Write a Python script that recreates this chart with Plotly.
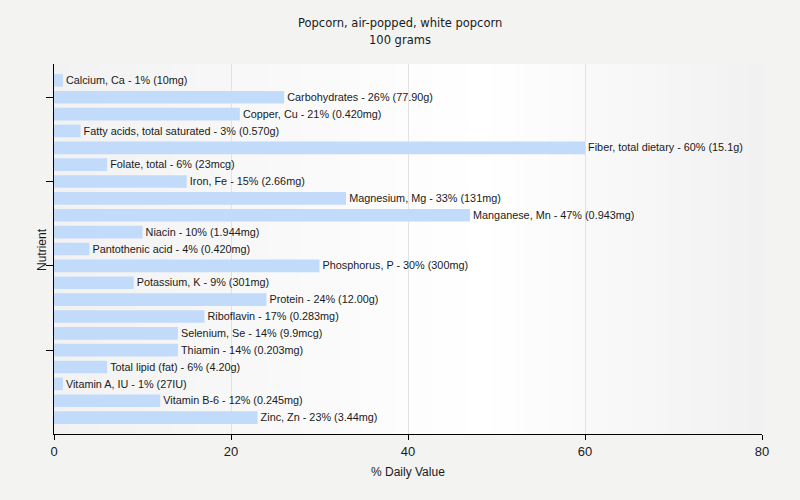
import plotly.graph_objects as go

nutrients = ["Calcium, Ca", "Carbohydrates", "Copper, Cu", "Fatty acids, total saturated",
             "Fiber, total dietary", "Folate, total", "Iron, Fe", "Magnesium, Mg",
             "Manganese, Mn", "Niacin", "Pantothenic acid", "Phosphorus, P",
             "Potassium, K", "Protein", "Riboflavin", "Selenium, Se", "Thiamin",
             "Total lipid (fat)", "Vitamin A, IU", "Vitamin B-6", "Zinc, Zn"]
percent_dv = [1, 26, 21, 3, 60, 6, 15, 33, 47, 10, 4, 30, 9, 24, 17, 14, 14, 6, 1, 12, 23]
amounts = ["10mg", "77.90g", "0.420mg", "0.570g", "15.1g", "23mcg", "2.66mg", "131mg",
           "0.943mg", "1.944mg", "0.420mg", "300mg", "301mg", "12.00g", "0.283mg",
           "9.9mcg", "0.203mg", "4.20g", "27IU", "0.245mg", "3.44mg"]
y_tickvals = [1, 6, 11, 16]
x_tickvals = [0, 20, 40, 60, 80]

labels = [f"{n} - {p}% ({a})" for n, p, a in zip(nutrients, percent_dv, amounts)]
ypos = list(range(len(nutrients)))

FONT = "Liberation Sans, Arial"
TXT = "#1a1a1a"

fig = go.Figure(go.Bar(
    x=percent_dv, y=ypos, orientation="h",
    width=0.75,
    marker=dict(color="#c2dbfa", line=dict(width=0)),
    text=labels, textposition="outside", cliponaxis=False,
    textfont=dict(family=FONT, size=12, color=TXT),
    hoverinfo="skip",
))

# background gradient of plot area
def lerp(a, b, t):
    return int(round(a + (b - a) * t))
shapes = []
n = 60
for i in range(n):
    t = (i + 0.5) / n
    if t < 0.6:
        v = lerp(0xf2, 0xff, t / 0.6)
    else:
        v = lerp(0xff, 0xf1, (t - 0.6) / 0.4)
    col = f"rgb({v},{v},{v})"
    shapes.append(dict(type="rect", xref="x domain", yref="y domain",
                       x0=i / n, x1=(i + 1) / n + 0.002, y0=0, y1=1,
                       fillcolor=col, line=dict(width=0), layer="below"))

def ypix(p):
    return (434 - p) / 370.0
def xpix(p):
    return (p - 54) / 708.0
annotations = [
    dict(text="Popcorn, air-popped, white popcorn", xref="paper", yref="paper",
         x=xpix(400), y=ypix(23), xanchor="center", yanchor="middle", showarrow=False,
         font=dict(family="DejaVu Sans, Verdana", size=11.5, color=TXT)),
    dict(text="100 grams", xref="paper", yref="paper",
         x=xpix(400), y=ypix(40), xanchor="center", yanchor="middle", showarrow=False,
         font=dict(family="DejaVu Sans, Verdana", size=11.5, color=TXT)),
    dict(text="% Daily Value", xref="paper", yref="paper",
         x=xpix(408), y=ypix(472), xanchor="center", yanchor="middle", showarrow=False,
         font=dict(family=FONT, size=12, color=TXT)),
    dict(text="Nutrient", xref="paper", yref="paper", textangle=-90,
         x=xpix(42), y=ypix(250), xanchor="center", yanchor="middle", showarrow=False,
         font=dict(family=FONT, size=12, color=TXT)),
]

fig.update_layout(
    width=800, height=500,
    paper_bgcolor="#f3f3f2",
    plot_bgcolor="rgba(0,0,0,0)",
    margin=dict(l=54, r=38, t=64, b=66),
    shapes=shapes,
    annotations=annotations,
    showlegend=False,
    hovermode=False,
    xaxis=dict(range=[0, 80], tickvals=x_tickvals, showgrid=True, gridcolor="#e2e2e2",
               gridwidth=1, zeroline=False, showline=True, linecolor="#000000", linewidth=1,
               ticks="outside", ticklen=5, tickcolor="#000000", automargin=False,
               fixedrange=True,
               tickfont=dict(family=FONT, size=13, color=TXT)),
    yaxis=dict(range=[20.97, -0.97], tickvals=y_tickvals, showticklabels=False,
               showgrid=False, zeroline=False, showline=True, linecolor="#000000", linewidth=1,
               ticks="outside", ticklen=7, tickcolor="#000000", automargin=False,
               fixedrange=True),
)

fig.write_html("out.html",
               config={"displayModeBar": False},
               post_script="document.body.style.margin='0';document.body.style.background='#f3f3f2';")
